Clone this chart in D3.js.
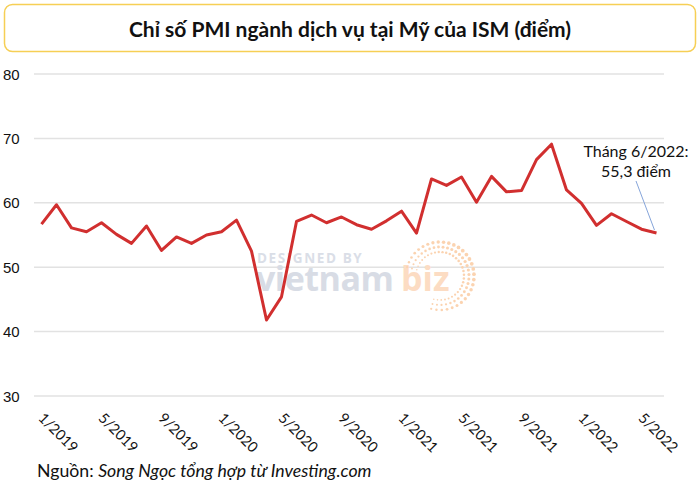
<!DOCTYPE html>
<html>
<head>
<meta charset="utf-8">
<script src="https://cdn.jsdelivr.net/npm/d3@7"></script>
<style>
  html, body { margin: 0; padding: 0; background: #fff; }
  svg { display: block; }
</style>
</head>
<body>
<svg id="chart" width="700" height="490"></svg>
<script>
// ---- Data ----
const months = [
  "1/2019","2/2019","3/2019","4/2019","5/2019","6/2019","7/2019","8/2019","9/2019","10/2019","11/2019","12/2019",
  "1/2020","2/2020","3/2020","4/2020","5/2020","6/2020","7/2020","8/2020","9/2020","10/2020","11/2020","12/2020",
  "1/2021","2/2021","3/2021","4/2021","5/2021","6/2021","7/2021","8/2021","9/2021","10/2021","11/2021","12/2021",
  "1/2022","2/2022","3/2022","4/2022","5/2022","6/2022"
];
const pmi = [
  56.7, 59.7, 56.1, 55.5, 56.9, 55.1, 53.7, 56.4, 52.6, 54.7, 53.7, 55.0,
  55.5, 57.3, 52.5, 41.8, 45.4, 57.1, 58.1, 56.9, 57.8, 56.6, 55.9, 57.2,
  58.7, 55.3, 63.7, 62.7, 64.0, 60.1, 64.1, 61.7, 61.9, 66.7, 69.1, 62.0,
  59.9, 56.5, 58.3, 57.1, 55.9, 55.3
];
const xTickLabels = ["1/2019","5/2019","9/2019","1/2020","5/2020","9/2020","1/2021","5/2021","9/2021","1/2022","5/2022"];
const yTicks = [30, 40, 50, 60, 70, 80];
const titleText = "Chỉ số PMI ngành dịch vụ tại Mỹ của ISM (điểm)";
const annotationLines = ["Tháng 6/2022:", "55,3 điểm"];
const sourceLabel = "Nguồn: ";
const sourceText = "Song Ngọc tổng hợp từ Investing.com";

// ---- Layout ----
const svg = d3.select("#chart");
const plot = { left: 34, right: 664, top: 74, bottom: 396 };

const x = d3.scaleBand().domain(months).range([plot.left, plot.right]);
const y = d3.scaleLinear().domain([30, 80]).range([plot.bottom, plot.top]);
const cx = d => x(d) + x.bandwidth() / 2;

// Title box
svg.append("rect")
  .attr("x", 4.5).attr("y", 4.5).attr("width", 691).attr("height", 47)
  .attr("rx", 8).attr("ry", 8)
  .attr("fill", "#fff").attr("stroke", "#f6cf55").attr("stroke-width", 1.5);
svg.append("text")
  .attr("x", 350).attr("y", 37)
  .attr("text-anchor", "middle")
  .attr("font-family", "Lato, 'Noto Sans', sans-serif")
  .attr("font-weight", 700)
  .attr("font-size", 21)
  .attr("fill", "#111")
  .text(titleText);

// Gridlines
svg.append("g").selectAll("line").data(yTicks).join("line")
  .attr("x1", plot.left).attr("x2", plot.right)
  .attr("y1", d => y(d)).attr("y2", d => y(d))
  .attr("stroke", "#e2e2e2").attr("stroke-width", 1.5);

// Y tick labels
svg.append("g").selectAll("text").data(yTicks).join("text")
  .attr("x", 3).attr("y", d => y(d) + 5.5)
  .attr("font-family", "'Liberation Sans', Arial, sans-serif")
  .attr("font-size", 15)
  .attr("fill", "#111")
  .text(d => d);

// Watermark
const wm = svg.append("g");
wm.append("text")
  .attr("x", 257).attr("y", 263)
  .attr("font-family", "'Open Sans', 'DejaVu Sans', sans-serif")
  .attr("font-weight", 700).attr("font-size", 13.5)
  .attr("letter-spacing", 1.6)
  .attr("fill", "#dadee7")
  .text("DESIGNED BY");
wm.append("text")
  .attr("x", 256).attr("y", 291)
  .attr("font-family", "'Open Sans', 'DejaVu Sans', sans-serif")
  .attr("font-weight", 700).attr("font-size", 34)
  .attr("letter-spacing", -0.5)
  .attr("fill", "#d8dce5")
  .text("vietnam");
wm.append("text")
  .attr("x", 401).attr("y", 291)
  .attr("font-family", "'Open Sans', 'DejaVu Sans', sans-serif")
  .attr("font-weight", 700).attr("font-size", 34)
  .attr("letter-spacing", 0)
  .attr("fill", "#fcdcc3")
  .text("biz");
const dots = [];
[[24, 1.3], [29, 1.6], [34, 1.9]].forEach(([r, s]) => {
  for (let a = -165; a <= 105; a += 9) {
    const rad = a * Math.PI / 180;
    dots.push({ x: 440 + r * Math.cos(rad), y: 276 + r * Math.sin(rad), s: s * (0.6 + 0.4 * Math.sin((a + 165) / 270 * Math.PI)) });
  }
});
wm.append("g").selectAll("circle").data(dots).join("circle")
  .attr("cx", d => d.x).attr("cy", d => d.y).attr("r", d => d.s)
  .attr("fill", "#fbd3b0");

// Line
const line = d3.line().x((d, i) => cx(months[i])).y(d => y(d));
svg.append("path")
  .datum(pmi)
  .attr("d", line)
  .attr("fill", "none")
  .attr("stroke", "#d12f2f")
  .attr("stroke-width", 3)
  .attr("stroke-linejoin", "round");

// X tick labels (rotated)
svg.append("g").selectAll("text").data(xTickLabels).join("text")
  .attr("transform", d => `translate(${cx(d) - 4},${419}) rotate(45)`)
  .attr("font-family", "Lato, 'Noto Sans', sans-serif")
  .attr("font-size", 14.5)
  .attr("fill", "#111")
  .text(d => d);

// Annotation
const lastIdx = pmi.length - 1;
svg.append("line")
  .attr("x1", 636).attr("y1", 181)
  .attr("x2", cx(months[lastIdx]) - 2).attr("y2", y(pmi[lastIdx]) - 3)
  .attr("stroke", "#86a5da").attr("stroke-width", 1);
svg.append("g").selectAll("text").data(annotationLines).join("text")
  .attr("x", 636).attr("y", (d, i) => 157 + i * 19.5)
  .attr("text-anchor", "middle")
  .attr("font-family", "Lato, 'Noto Sans', sans-serif")
  .attr("font-size", 16)
  .attr("fill", "#111")
  .text(d => d);

// Source
const src = svg.append("text")
  .attr("x", 37).attr("y", 477)
  .attr("font-family", "Lato, 'Noto Sans', sans-serif")
  .attr("font-size", 17.7)
  .attr("fill", "#111");
src.append("tspan").text(sourceLabel);
src.append("tspan").attr("font-style", "italic").text(sourceText);
</script>
</body>
</html>
